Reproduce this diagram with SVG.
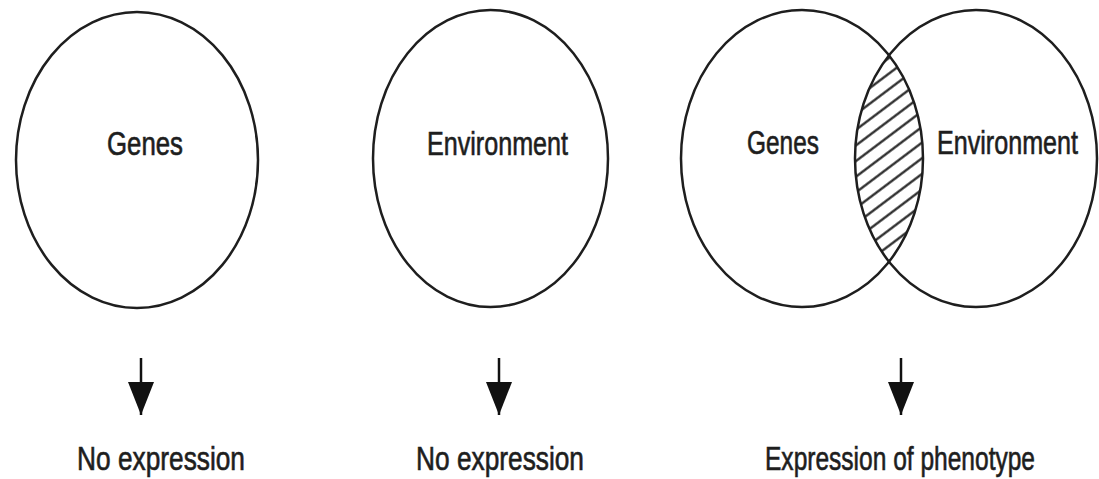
<svg xmlns="http://www.w3.org/2000/svg" width="1099" height="479" viewBox="0 0 1099 479">
<style>
.c{fill:none;stroke:#1e1e1e;stroke-width:2.5}
.t{font-family:"Liberation Sans",Arial,sans-serif;font-size:26px;fill:#1e1e1e;stroke:#1e1e1e;stroke-width:0.5}
.a{stroke:#111;stroke-width:2.5}
</style>
<defs>
<marker id="ah" markerUnits="userSpaceOnUse" markerWidth="34" markerHeight="26" refX="33" refY="13" orient="auto" viewBox="0 0 34 26">
<path d="M0,0 L33,13 L0,26 Z" fill="#111"/>
</marker>
<pattern id="hatch" patternUnits="userSpaceOnUse" width="12.5" height="12.5" patternTransform="rotate(-37)">
<line x1="0" y1="6.25" x2="12.5" y2="6.25" stroke="#1e1e1e" stroke-width="2.2"/>
</pattern>
<clipPath id="rightClip"><ellipse cx="976" cy="158.5" rx="121" ry="148.5"/></clipPath>
</defs>
<rect width="1099" height="479" fill="#fff"/>

<g id="node-genes">
<ellipse class="c" cx="137" cy="160" rx="121" ry="148"/>
<text class="t" transform="translate(107,155) scale(1,1.27)" textLength="76" lengthAdjust="spacingAndGlyphs">Genes</text>
</g>
<g id="node-environment">
<ellipse class="c" cx="490.5" cy="158.5" rx="117.5" ry="148.5"/>
<text class="t" transform="translate(427,155) scale(1,1.27)" textLength="141" lengthAdjust="spacingAndGlyphs">Environment</text>
</g>
<g id="node-venn">
<ellipse cx="802" cy="158.5" rx="121" ry="148.5" fill="url(#hatch)" clip-path="url(#rightClip)"/>
<ellipse class="c" cx="802" cy="158.5" rx="121" ry="148.5"/>
<ellipse class="c" cx="976" cy="158.5" rx="121" ry="148.5"/>
<text class="t" transform="translate(747,154) scale(1,1.27)" textLength="72" lengthAdjust="spacingAndGlyphs">Genes</text>
<text class="t" transform="translate(937,154) scale(1,1.27)" textLength="141" lengthAdjust="spacingAndGlyphs">Environment</text>
</g>
<g id="node-out1">
<text class="t" transform="translate(77,470) scale(1,1.27)" textLength="168" lengthAdjust="spacingAndGlyphs">No expression</text>
</g>
<g id="node-out2">
<text class="t" transform="translate(416,470) scale(1,1.27)" textLength="168" lengthAdjust="spacingAndGlyphs">No expression</text>
</g>
<g id="node-out3">
<text class="t" transform="translate(765,470) scale(1,1.27)" textLength="270" lengthAdjust="spacingAndGlyphs">Expression of phenotype</text>
</g>
<g id="connectors">
<line class="a" x1="141" y1="358" x2="141" y2="415" marker-end="url(#ah)"/>
<line class="a" x1="499" y1="358" x2="499" y2="415" marker-end="url(#ah)"/>
<line class="a" x1="901" y1="358" x2="901" y2="415" marker-end="url(#ah)"/>
</g>
</svg>
